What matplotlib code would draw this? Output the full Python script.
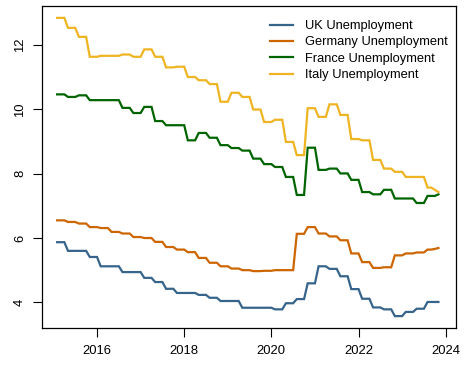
import matplotlib
matplotlib.use("Agg")
import matplotlib.pyplot as plt
import numpy as np

plt.rcParams['font.family'] = ['Liberation Sans', 'DejaVu Sans']

# Monthly series, starting February 2015
start_year = 2015
start_month = 2

uk = [5.87, 5.87, 5.87, 5.60, 5.60, 5.60, 5.60, 5.60, 5.60, 5.41, 5.41, 5.41,
      5.12, 5.12, 5.12, 5.12, 5.12, 5.12, 4.94, 4.94, 4.94, 4.94, 4.94, 4.94,
      4.76, 4.76, 4.76, 4.63, 4.63, 4.63, 4.42, 4.42, 4.42, 4.29, 4.29, 4.29,
      4.29, 4.29, 4.29, 4.23, 4.23, 4.23, 4.14, 4.14, 4.14, 4.04, 4.04, 4.04,
      4.04, 4.04, 4.04, 3.83, 3.83, 3.83, 3.83, 3.83, 3.83, 3.83, 3.83, 3.83,
      3.78, 3.78, 3.78, 3.97, 3.97, 3.97, 4.10, 4.10, 4.10, 4.59, 4.59, 4.59,
      5.12, 5.12, 5.12, 5.04, 5.04, 5.04, 4.81, 4.81, 4.81, 4.41, 4.41, 4.41,
      4.11, 4.11, 4.11, 3.84, 3.84, 3.84, 3.78, 3.78, 3.78, 3.57, 3.57, 3.57,
      3.70, 3.70, 3.70, 3.80, 3.80, 3.80, 4.01, 4.01, 4.01, 4.01]

germany = [6.55, 6.55, 6.55, 6.50, 6.50, 6.50, 6.45, 6.45, 6.45, 6.34, 6.34, 6.34,
           6.31, 6.31, 6.31, 6.19, 6.19, 6.19, 6.14, 6.14, 6.14, 6.03, 6.03, 6.03,
           6.00, 6.00, 6.00, 5.88, 5.88, 5.88, 5.72, 5.72, 5.72, 5.64, 5.64, 5.64,
           5.56, 5.56, 5.56, 5.38, 5.38, 5.38, 5.23, 5.23, 5.23, 5.12, 5.12, 5.12,
           5.05, 5.05, 5.05, 5.00, 5.00, 5.00, 4.97, 4.97, 4.97, 4.98, 4.98, 4.98,
           5.00, 5.00, 5.00, 5.00, 5.00, 5.00, 6.13, 6.13, 6.13, 6.34, 6.34, 6.34,
           6.14, 6.14, 6.14, 6.05, 6.05, 6.05, 5.93, 5.93, 5.93, 5.52, 5.52, 5.52,
           5.25, 5.25, 5.25, 5.07, 5.07, 5.07, 5.09, 5.09, 5.09, 5.46, 5.46, 5.46,
           5.52, 5.52, 5.52, 5.55, 5.55, 5.55, 5.64, 5.64, 5.66, 5.69]

france = [10.47, 10.47, 10.47, 10.39, 10.39, 10.39, 10.44, 10.44, 10.44, 10.29, 10.29, 10.29,
          10.29, 10.29, 10.29, 10.29, 10.29, 10.29, 10.05, 10.05, 10.05, 9.89, 9.89, 9.89,
          10.08, 10.08, 10.08, 9.64, 9.64, 9.64, 9.51, 9.51, 9.51, 9.51, 9.51, 9.51,
          9.04, 9.04, 9.04, 9.27, 9.27, 9.27, 9.12, 9.12, 9.12, 8.89, 8.89, 8.89,
          8.80, 8.80, 8.80, 8.72, 8.72, 8.72, 8.47, 8.47, 8.47, 8.30, 8.30, 8.30,
          8.21, 8.21, 8.21, 7.90, 7.90, 7.90, 7.34, 7.34, 7.34, 8.81, 8.81, 8.81,
          8.12, 8.12, 8.12, 8.16, 8.16, 8.16, 8.01, 8.01, 8.01, 7.81, 7.81, 7.81,
          7.43, 7.43, 7.43, 7.36, 7.36, 7.36, 7.50, 7.50, 7.50, 7.23, 7.23, 7.23,
          7.23, 7.23, 7.23, 7.09, 7.09, 7.09, 7.31, 7.31, 7.31, 7.36]

italy = [12.85, 12.85, 12.85, 12.54, 12.54, 12.54, 12.26, 12.26, 12.26, 11.64, 11.64, 11.64,
         11.67, 11.67, 11.67, 11.67, 11.67, 11.67, 11.71, 11.71, 11.71, 11.64, 11.64, 11.64,
         11.87, 11.87, 11.87, 11.64, 11.64, 11.64, 11.31, 11.31, 11.31, 11.33, 11.33, 11.33,
         11.01, 11.01, 11.01, 10.91, 10.91, 10.91, 10.79, 10.79, 10.79, 10.24, 10.24, 10.24,
         10.52, 10.52, 10.52, 10.39, 10.39, 10.39, 10.00, 10.00, 10.00, 9.61, 9.61, 9.61,
         9.68, 9.68, 9.68, 8.99, 8.99, 8.99, 8.58, 8.58, 8.58, 10.04, 10.04, 10.04,
         9.77, 9.77, 9.77, 10.16, 10.16, 10.16, 9.83, 9.83, 9.83, 9.08, 9.08, 9.08,
         9.04, 9.04, 9.04, 8.43, 8.43, 8.43, 8.16, 8.16, 8.16, 8.06, 8.06, 8.06,
         7.90, 7.90, 7.90, 7.90, 7.90, 7.90, 7.57, 7.57, 7.50, 7.43]

series = [
    ("UK Unemployment", uk, "#36648B"),
    ("Germany Unemployment", germany, "#CD6600"),
    ("France Unemployment", france, "#006400"),
    ("Italy Unemployment", italy, "#EEB422"),
]

x_ticks = [2016, 2018, 2020, 2022, 2024]
y_ticks = [4, 6, 8, 10, 12]

W, H = 466, 366
fig = plt.figure(figsize=(W / 100, H / 100), dpi=100)
ax = fig.add_axes([42 / W, 1 - 328 / H, (455.5 - 42) / W, (328 - 6) / H])

for label, vals, col in series:
    t = start_year + (start_month - 1 + np.arange(len(vals))) / 12.0
    ax.plot(t, vals, color=col, lw=1.6, label=label, solid_joinstyle='miter')

ax.set_xlim(2014.737, 2024.225)
ax.set_ylim(3.20, 13.22)
ax.set_xticks(x_ticks)
ax.set_xticklabels([str(v) for v in x_ticks])
ax.set_yticks(y_ticks)
ax.set_yticklabels([str(v) for v in y_ticks], rotation=90, va='center')
ax.tick_params(axis='both', length=6.5, width=0.8, labelsize=9.4, direction='out',
               colors='black')
ax.tick_params(axis='x', pad=5.5)
ax.tick_params(axis='y', pad=5)
for s in ax.spines.values():
    s.set_linewidth(0.9)
    s.set_color('black')

ax.legend(loc='upper left', bbox_to_anchor=(270 / W, 1 - 20 / H),
          bbox_transform=fig.transFigure, frameon=False, fontsize=9.3,
          handlelength=1.8, handletextpad=0.9, labelspacing=0.34,
          borderpad=0, borderaxespad=0)

fig.savefig("out.png", dpi=100)
